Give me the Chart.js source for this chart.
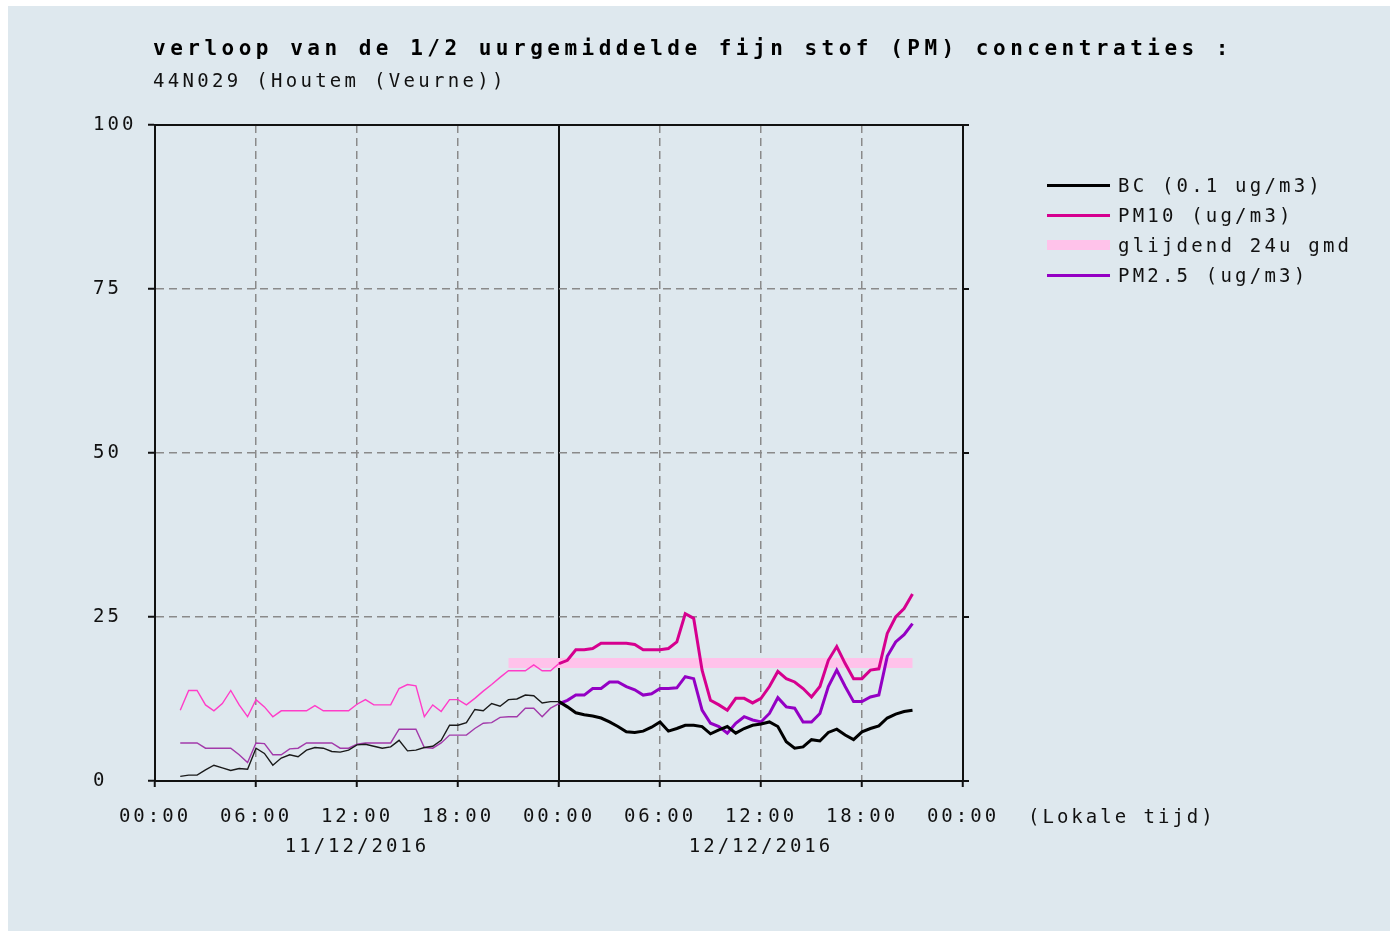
<!DOCTYPE html>
<html lang="nl">
<head>
<meta charset="UTF-8" />
<title>Fijn stof - 44N029 (Houtem (Veurne))</title>
<script src="https://cdn.jsdelivr.net/npm/chart.js"></script>
<style>
  body { margin: 0; background: #ffffff; font-family: "DejaVu Sans Mono", monospace; color: #111; }
  .panel { position: absolute; left: 8px; top: 6px; width: 1382px; height: 925px; background: #dee8ee; }
  #chart { position: absolute; left: 0; top: 0; }
  .title { position: absolute; left: 153px; top: 36px; font-size: 21px; font-weight: bold; letter-spacing: 4.5px; line-height: 24px; white-space: pre; color: #000; }
  .subtitle { position: absolute; left: 153px; top: 68px; font-size: 19px; letter-spacing: 3.3px; line-height: 24px; white-space: pre; }
  .legend { position: absolute; left: 1047px; top: 170px; }
  .legend-row { display: flex; align-items: center; height: 30px; }
  .legend-row span.swatch { display: inline-block; width: 63px; margin-right: 8px; }
  .legend-row span.label { font-size: 19px; letter-spacing: 3.2px; white-space: pre; }
  .timezone { position: absolute; left: 1028px; top: 804px; font-size: 19px; letter-spacing: 3px; line-height: 24px; white-space: pre; }
</style>
</head>
<body>
<div class="panel"></div>
<canvas id="chart" width="1390" height="931"></canvas>
<div class="title">verloop van de 1/2 uurgemiddelde fijn stof (PM) concentraties :</div>
<div class="subtitle">44N029 (Houtem (Veurne))</div>
<div class="legend" id="legend"></div>
<div class="timezone">(Lokale tijd)</div>

<script>
  // tijdas: uren vanaf 11/12/2016 00:00, halfuurwaarden vanaf 01:30
  const startHour = 1.5;
  const stepHour = 0.5;
  const dayBreak = 24;
  const hourTicks = [0, 6, 12, 18, 24, 30, 36, 42, 48];
  const dateLabels = { 12: "11/12/2016", 36: "12/12/2016" };
  const yTicks = [0, 25, 50, 75, 100];

  // BC (0.1 ug/m3)
  const bc = [
    0.7, 0.9, 0.9, 1.7, 2.4, 2.0, 1.6, 1.9, 1.8, 5.0, 4.2, 2.4,
    3.5, 4.0, 3.7, 4.7, 5.1, 5.0, 4.5, 4.4, 4.7, 5.5, 5.6, 5.3,
    5.0, 5.2, 6.2, 4.6, 4.7, 5.1, 5.3, 6.2, 8.5, 8.5, 8.9, 10.9,
    10.7, 11.8, 11.4, 12.4, 12.5, 13.1, 13.0, 11.9, 12.1, 12.1, 11.3, 10.4,
    10.1, 9.9, 9.6, 9.0, 8.3, 7.5, 7.4, 7.6, 8.2, 9.0, 7.6, 8.0,
    8.5, 8.5, 8.3, 7.2, 7.8, 8.3, 7.3, 8.0, 8.5, 8.7, 9.0, 8.3,
    6.0, 5.0, 5.2, 6.3, 6.1, 7.4, 7.9, 7.0, 6.3, 7.5, 8.0, 8.4,
    9.6, 10.2, 10.6, 10.8
  ];

  // PM10 (ug/m3)
  const pm10 = [
    10.8, 13.8, 13.8, 11.6, 10.7, 11.8, 13.8, 11.6, 9.8, 12.4, 11.3, 9.8,
    10.7, 10.7, 10.7, 10.7, 11.5, 10.7, 10.7, 10.7, 10.7, 11.7, 12.4, 11.6,
    11.6, 11.6, 14.1, 14.7, 14.5, 9.8, 11.6, 10.6, 12.4, 12.4, 11.6, 12.6,
    13.7, 14.7, 15.8, 16.8, 16.8, 16.8, 17.7, 16.8, 16.8, 17.9, 18.4, 20.0,
    20.0, 20.2, 21.0, 21.0, 21.0, 21.0, 20.8, 20.0, 20.0, 20.0, 20.2, 21.2,
    25.5, 24.8, 16.9, 12.3, 11.6, 10.8, 12.6, 12.6, 11.9, 12.6, 14.4, 16.7,
    15.6, 15.1, 14.1, 12.8, 14.4, 18.4, 20.5, 17.9, 15.6, 15.6, 16.9, 17.1,
    22.5, 25.0, 26.3, 28.5
  ];

  // PM2.5 (ug/m3)
  const pm25 = [
    5.8, 5.8, 5.8, 5.0, 5.0, 5.0, 5.0, 4.0, 2.8, 5.8, 5.7, 4.0,
    4.0, 4.9, 5.0, 5.8, 5.8, 5.8, 5.8, 5.0, 5.0, 5.6, 5.8, 5.8,
    5.8, 5.8, 7.9, 7.9, 7.9, 5.1, 5.0, 5.8, 7.0, 7.0, 7.0, 8.0,
    8.8, 8.9, 9.7, 9.8, 9.8, 11.1, 11.1, 9.8, 11.1, 11.8, 12.3, 13.1,
    13.1, 14.1, 14.1, 15.1, 15.1, 14.4, 13.9, 13.1, 13.3, 14.1, 14.1, 14.2,
    15.9, 15.6, 10.8, 8.8, 8.3, 7.3, 8.8, 9.8, 9.3, 9.0, 10.3, 12.7,
    11.3, 11.1, 9.0, 9.0, 10.3, 14.4, 16.9, 14.4, 12.1, 12.1, 12.8, 13.1,
    19.0, 21.2, 22.3, 24.0
  ];

  // glijdend 24u gemiddelde PM10
  const gmdHours = [21, 45];
  const gmdValues = [18.0, 18.0];

  const gridGray = "#8a8a8a";
  const axisBlack = "#111111";
  const tickFont = { family: "DejaVu Sans Mono", size: 19, lineHeight: "30px" };

  function toPoints(values) {
    return values.map((v, i) => ({ x: startHour + i * stepHour, y: v }));
  }

  function pad(n) {
    return (n < 10 ? "0" : "") + n;
  }

  // dag 1 dun en licht, dag 2 dik en donker
  function dayStyle(thin, thick) {
    return {
      borderColor: (c) => (c.p0.parsed.x < dayBreak ? thin : thick),
      borderWidth: (c) => (c.p0.parsed.x < dayBreak ? 1.4 : 3),
    };
  }

  const datasets = [
    {
      label: "BC (0.1 ug/m3)",
      data: toPoints(bc),
      borderColor: "#000000",
      legendWidth: 3,
      segment: dayStyle("#1a1a1a", "#000000"),
    },
    {
      label: "PM10 (ug/m3)",
      data: toPoints(pm10),
      borderColor: "#d6008f",
      legendWidth: 3,
      segment: dayStyle("#ff3cc8", "#d6008f"),
    },
    {
      label: "glijdend 24u gmd",
      data: gmdHours.map((h, i) => ({ x: h, y: gmdValues[i] })),
      borderColor: "#ffc2ea",
      borderWidth: 10,
      borderCapStyle: "butt",
      legendWidth: 10,
      order: 1,
    },
    {
      label: "PM2.5 (ug/m3)",
      data: toPoints(pm25),
      borderColor: "#9400c4",
      legendWidth: 3,
      segment: dayStyle("#a23aaa", "#9400c4"),
    },
  ];

  // canvas letterSpacing voor de brede pixel-letters
  const spacing = {
    id: "spacing",
    beforeDraw(chart) {
      chart.ctx.letterSpacing = "3px";
    },
  };

  const chart = new Chart(document.getElementById("chart"), {
    type: "line",
    data: { datasets: datasets },
    plugins: [spacing],
    options: {
      responsive: false,
      animation: false,
      parsing: false,
      layout: { padding: { left: 93, right: 421, top: 125, bottom: 0 } },
      elements: {
        point: { radius: 0 },
        line: { tension: 0, borderJoinStyle: "miter" },
      },
      plugins: {
        legend: { display: false },
        tooltip: { enabled: false },
      },
      scales: {
        x: {
          type: "linear",
          min: 0,
          max: 48,
          afterBuildTicks: (s) => {
            s.ticks = hourTicks.map((v) => ({ value: v }));
          },
          afterFit: (s) => {
            s.height = 150;
          },
          grid: {
            color: (c) => (c.tick && c.tick.value % 24 !== 0 ? gridGray : "rgba(0,0,0,0)"),
            lineWidth: 1.5,
            tickColor: axisBlack,
            tickLength: 6,
            tickWidth: 2,
          },
          border: { display: true, color: axisBlack, width: 2, dash: [8, 5] },
          ticks: {
            color: axisBlack,
            font: tickFont,
            padding: 15,
            maxRotation: 0,
            autoSkip: false,
            callback: (v) => {
              const label = pad(v % 24) + ":00";
              return dateLabels[v] ? [label, dateLabels[v]] : label;
            },
          },
        },
        xMid: {
          type: "linear",
          position: "top",
          min: 0,
          max: 48,
          afterBuildTicks: (s) => {
            s.ticks = [{ value: dayBreak }];
          },
          afterFit: (s) => {
            s.height = 0;
          },
          grid: { color: axisBlack, lineWidth: 2, drawTicks: false },
          border: { display: false },
          ticks: { display: false },
        },
        y: {
          type: "linear",
          min: 0,
          max: 100,
          afterBuildTicks: (s) => {
            s.ticks = yTicks.map((v) => ({ value: v }));
          },
          afterFit: (s) => {
            s.width = 62;
          },
          grid: {
            color: (c) => (c.tick && c.tick.value % 100 !== 0 ? gridGray : "rgba(0,0,0,0)"),
            lineWidth: 1.5,
            tickColor: axisBlack,
            tickLength: 7,
            tickWidth: 2,
          },
          border: { display: true, color: axisBlack, width: 2, dash: [8, 5] },
          ticks: { color: axisBlack, font: { family: "DejaVu Sans Mono", size: 19 }, crossAlign: "far" },
        },
        yFrame: {
          type: "linear",
          position: "right",
          min: 0,
          max: 100,
          afterBuildTicks: (s) => {
            s.ticks = yTicks.map((v) => ({ value: v }));
          },
          afterFit: (s) => {
            s.width = 6;
          },
          grid: {
            color: (c) => (c.tick && c.tick.value === 100 ? axisBlack : "rgba(0,0,0,0)"),
            lineWidth: 2,
            tickColor: axisBlack,
            tickLength: 6,
            tickWidth: 2,
          },
          border: { display: true, color: axisBlack, width: 2 },
          ticks: { display: false },
        },
      },
    },
  });

  // legenda rechts, opgebouwd uit de datasets
  const legend = document.getElementById("legend");
  chart.data.datasets.forEach((ds) => {
    const row = document.createElement("div");
    row.className = "legend-row";
    const swatch = document.createElement("span");
    swatch.className = "swatch";
    swatch.style.height = ds.legendWidth + "px";
    swatch.style.background = ds.borderColor;
    const label = document.createElement("span");
    label.className = "label";
    label.textContent = ds.label;
    row.appendChild(swatch);
    row.appendChild(label);
    legend.appendChild(row);
  });
</script>
</body>
</html>
